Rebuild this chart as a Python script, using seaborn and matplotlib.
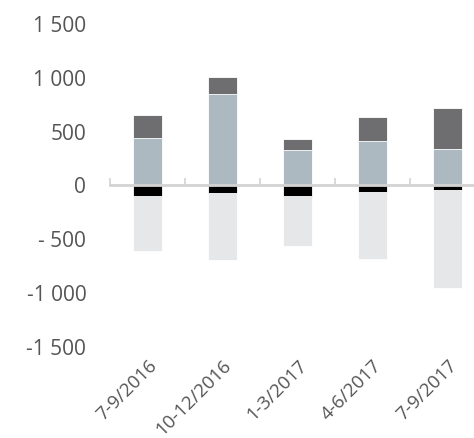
import pandas as pd
import matplotlib.pyplot as plt
import seaborn as sns

# Data
periods = ['7-9/2016', '10-12/2016', '1-3/2017', '4-6/2017', '7-9/2017']
pos_lower = [437, 847, 326, 412, 338]      # blue-grey part
pos_upper = [216, 160, 107, 219, 377]      # dark grey part
neg_upper = [-95, -75, -100, -60, -45]     # black part
neg_lower = [-512, -615, -468, -620, -906] # light grey part

ytick_values = [1500, 1000, 500, 0, -500, -1000, -1500]
ytick_labels = ['1 500', '1 000', '500', '0', '- 500', '-1 000', '-1 500']

df = pd.DataFrame({
    'period': periods,
    'pos_total': [a + b for a, b in zip(pos_lower, pos_upper)],
    'pos_lower': pos_lower,
    'neg_total': [a + b for a, b in zip(neg_upper, neg_lower)],
    'neg_upper': neg_upper,
})

sns.set_style('white')
plt.rcParams['font.family'] = ['Open Sans', 'DejaVu Sans']

fig = plt.figure(figsize=(4.74, 4.38), dpi=100)
ax = fig.add_axes([0.232, 0.2084, 0.791, 0.7368])

# stacked bars: draw the totals first, then the inner parts over them
bar_kw = dict(width=0.39, edgecolor='white', linewidth=0.6, ax=ax)
sns.barplot(data=df, x='period', y='pos_total', color='#6e6e70', **bar_kw)
sns.barplot(data=df, x='period', y='pos_lower', color='#a8bac4', **bar_kw)
sns.barplot(data=df, x='period', y='neg_total', color='#e6e7e8', **bar_kw)
sns.barplot(data=df, x='period', y='neg_upper', color='#000000', **bar_kw)

ax.set_xlim(-0.5, 4.5)
ax.set_ylim(-1500, 1500)
ax.set_xlabel('')
ax.set_ylabel('')

for s in ax.spines.values():
    s.set_visible(False)

ax.set_yticks(ytick_values)
ax.set_yticklabels(ytick_labels)
ax.tick_params(axis='y', length=0, pad=17, labelsize=15, labelcolor='#555555')

ax.set_xticks(range(len(periods)))
ax.set_xticklabels(periods, rotation=45, ha='right', rotation_mode='anchor')
ax.tick_params(axis='x', length=0, pad=7, labelsize=13.5, labelcolor='#555555')

# zero line with tick marks between categories
zero = ax.secondary_xaxis(0.5)
zero.set_xticks([i - 0.5 for i in range(len(periods))])
zero.set_xticklabels([])
zero.tick_params(direction='out', length=5, width=1.2, color='#d3d3d3')
for s in zero.spines.values():
    s.set_color('#d3d3d3')
    s.set_linewidth(2)
zero.set_zorder(5)

plt.savefig('out.png', dpi=100)
